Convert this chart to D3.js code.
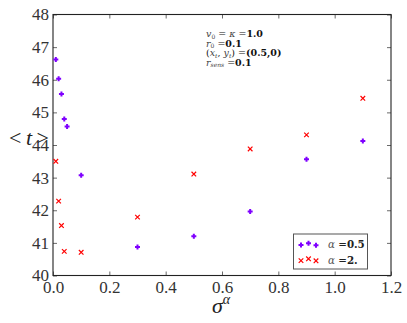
<!DOCTYPE html>
<html><head><meta charset="utf-8">
<script src="https://cdn.jsdelivr.net/npm/d3@7"></script>
<style>body{margin:0;background:#fff}svg{display:block}</style>
</head><body>
<svg id="c" width="407" height="323"></svg>
<script>
const sigmaA = [0.01, 0.02, 0.03, 0.04, 0.05, 0.1, 0.3, 0.5, 0.7, 0.9, 1.1];
const tHalf  = [46.62, 46.03, 45.56, 44.80, 44.57, 43.07, 40.87, 41.20, 41.96, 43.56, 44.12];
const sigmaB = [0.01, 0.02, 0.03, 0.04, 0.1, 0.3, 0.5, 0.7, 0.9, 1.1];
const tTwo   = [43.50, 42.28, 41.53, 40.74, 40.71, 41.79, 43.11, 43.88, 44.31, 45.43];
const xTicks = [0.0, 0.2, 0.4, 0.6, 0.8, 1.0, 1.2];
const yTicks = [40, 41, 42, 43, 44, 45, 46, 47, 48];

const svg = d3.select('#c');
const L = 53, R = 391, T = 14.5, B = 275.5;
const x = d3.scaleLinear().domain([0, 1.2]).range([L, R]);
const y = d3.scaleLinear().domain([40, 48]).range([B, T]);
const FONT = '"Liberation Serif", "DejaVu Serif", serif';
const FONT2 = '"DejaVu Serif", serif';
const PURPLE = '#7f00ff', RED = '#ff0000';

function styleAxis(g, showLabels) {
  g.select('.domain').remove();
  g.selectAll('.tick line').attr('stroke', '#444').attr('stroke-width', 0.8);
  g.selectAll('.tick text').attr('font-family', FONT).attr('font-size', 17).attr('fill', '#333');
  if (!showLabels) g.selectAll('.tick text').remove();
}
svg.append('g').attr('transform', `translate(0,${B})`)
  .call(d3.axisBottom(x).tickValues(xTicks).tickFormat(d3.format('.1f')).tickSize(-4).tickPadding(5))
  .call(g => styleAxis(g, true));
svg.append('g').attr('transform', `translate(0,${T})`)
  .call(d3.axisTop(x).tickValues(xTicks).tickSize(-4))
  .call(g => styleAxis(g, false));
svg.append('g').attr('transform', `translate(${L},0)`)
  .call(d3.axisLeft(y).tickValues(yTicks).tickFormat(d3.format('d')).tickSize(-4).tickPadding(4))
  .call(g => styleAxis(g, true));
svg.append('g').attr('transform', `translate(${R},0)`)
  .call(d3.axisRight(y).tickValues(yTicks).tickSize(-4))
  .call(g => styleAxis(g, false));

svg.append('rect').attr('x', L).attr('y', T).attr('width', R - L).attr('height', B - T)
  .attr('fill', 'none').attr('stroke', '#222').attr('stroke-width', 1.1);

function plus(g, cx, cy) {
  g.append('path').attr('d', `M${cx-2.5},${cy}H${cx+2.5}M${cx},${cy-2.5}V${cy+2.5}`)
    .attr('stroke', PURPLE).attr('stroke-width', 2);
}
function cross(g, cx, cy) {
  g.append('path').attr('d', `M${cx-2.3},${cy-2.3}L${cx+2.3},${cy+2.3}M${cx-2.3},${cy+2.3}L${cx+2.3},${cy-2.3}`)
    .attr('stroke', RED).attr('stroke-width', 1.2);
}
const pts = svg.append('g');
sigmaA.forEach((s, i) => plus(pts, x(s), y(tHalf[i])));
sigmaB.forEach((s, i) => cross(pts, x(s), y(tTwo[i])));

// axis labels
const xl = svg.append('text').attr('x', 221).attr('y', 313).attr('text-anchor', 'middle')
  .attr('font-family', FONT).attr('font-size', 22).attr('fill', '#222');
xl.append('tspan').attr('font-style', 'italic').text('σ');
xl.append('tspan').attr('font-style', 'italic').attr('font-size', 14).attr('dy', -9).text('α');

const yl = svg.append('text').attr('x', 29).attr('y', 144.5).attr('text-anchor', 'middle')
  .attr('font-family', FONT).attr('font-size', 22).attr('fill', '#222');
yl.append('tspan').text('<');
yl.append('tspan').attr('font-style', 'italic').text('\u2009t\u2009');
yl.append('tspan').text('>');

// annotation
const ann = svg.append('g').attr('font-family', FONT2).attr('font-size', 9.5).attr('fill', '#111');
function mathLine(yy, parts) {
  const t = ann.append('text').attr('x', 206).attr('y', yy);
  parts.forEach(p => {
    const s = t.append('tspan').text(p[0]);
    if (p[1] === 'i') s.attr('font-style', 'italic').attr('fill', '#444');
    if (p[1] === 'sub') s.attr('font-style', 'italic').attr('fill', '#444').attr('font-size', 6).attr('dy', 1.5);
    if (p[1] === 'subn') s.attr('font-size', 6).attr('fill', '#444').attr('dy', 1.5);
    if (p[1] === 'b') s.attr('font-weight', 'bold');
    if (p[2]) s.attr('dy', p[2]);
  });
}
mathLine(37, [['v', 'i'], ['0', 'subn'], [' = ', null, -1.5], ['κ', 'i'], [' =', null], ['1.0', 'b']]);
mathLine(46.5, [['r', 'i'], ['0', 'subn'], [' =', null, -1.5], ['0.1', 'b']]);
mathLine(56, [['(', null], ['x', 'i'], ['t', 'sub'], [', ', null, -1.5], ['y', 'i'], ['t', 'sub'], [') =', null, -1.5], ['(0.5,0)', 'b']]);
mathLine(65.5, [['r', 'i'], ['sens', 'sub'], [' =', null, -1.5], ['0.1', 'b']]);

// legend
const lg = svg.append('g');
lg.append('rect').attr('x', 293.5).attr('y', 234).attr('width', 74).attr('height', 35)
  .attr('fill', '#fff').attr('stroke', '#555').attr('stroke-width', 1);
const legendItems = [
  { label: '0.5', kind: 'plus', cy: 244.5 },
  { label: '2.', kind: 'cross', cy: 260 }
];
const offs = [[301, 0.6], [308.5, -1.2], [316, 0.8]];
legendItems.forEach(it => {
  offs.forEach(o => (it.kind === 'plus' ? plus : cross)(lg, o[0], it.cy + o[1]));
  const t = lg.append('text').attr('x', 328).attr('y', it.cy + 3.5)
    .attr('font-family', FONT2).attr('font-size', 10.3).attr('fill', '#222');
  t.append('tspan').attr('font-style', 'italic').attr('fill', '#555').text('α');
  t.append('tspan').text(' =');
  t.append('tspan').attr('font-weight', 'bold').text(it.label);
});
</script>
</body></html>
